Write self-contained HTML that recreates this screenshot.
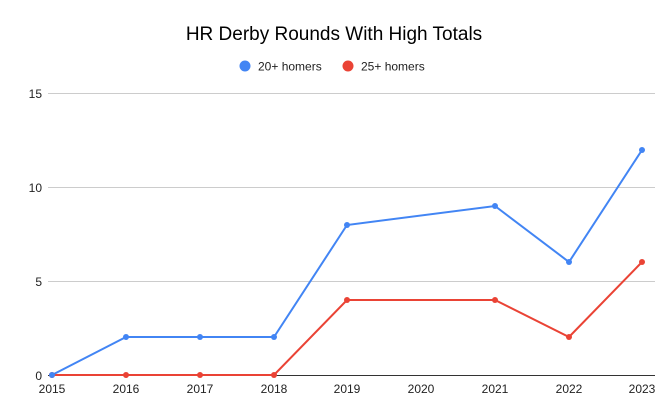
<!DOCTYPE html><html><head><style>body{margin:0;background:#fff}svg{display:block}</style></head><body>
<svg width="668" height="416" xmlns="http://www.w3.org/2000/svg" font-family="Liberation Sans, sans-serif">
<rect width="668" height="416" fill="#fff"/>
<text x="334" y="40" text-anchor="middle" font-size="19" fill="#000">HR Derby Rounds With High Totals</text>
<circle cx="245" cy="66" r="5.5" fill="#4285f4"/><text x="258" y="70.5" font-size="12" fill="#222">20+ homers</text>
<circle cx="348" cy="66" r="5.5" fill="#ea4335"/><text x="361" y="70.5" font-size="12" fill="#222">25+ homers</text>
<g stroke="#ccc" stroke-width="1">
<line x1="48" y1="93.5" x2="655" y2="93.5"/><line x1="48" y1="187.5" x2="655" y2="187.5"/><line x1="48" y1="281.5" x2="655" y2="281.5"/></g>
<line x1="48" y1="375.5" x2="655" y2="375.5" stroke="#333"/>
<g font-size="12" fill="#222" text-anchor="end"><text x="42" y="98">15</text><text x="42" y="192">10</text><text x="42" y="286">5</text><text x="42" y="380">0</text></g>
<g font-size="12" fill="#222" text-anchor="middle"><text x="52" y="393">2015</text><text x="126" y="393">2016</text><text x="200" y="393">2017</text><text x="274" y="393">2018</text><text x="347" y="393">2019</text><text x="421" y="393">2020</text><text x="495" y="393">2021</text><text x="569" y="393">2022</text><text x="642" y="393">2023</text></g>
<polyline fill="none" stroke="#ea4335" stroke-width="2" points="52,375 126,375 200,375 274,375 347,300 495,300 569,337 642,262"/>
<polyline fill="none" stroke="#4285f4" stroke-width="2" points="52,375 126,337 200,337 274,337 347,225 495,206 569,262 642,150"/>
<g fill="#ea4335"><circle cx="52" cy="375" r="3"/><circle cx="126" cy="375" r="3"/><circle cx="200" cy="375" r="3"/><circle cx="274" cy="375" r="3"/><circle cx="347" cy="300" r="3"/><circle cx="495" cy="300" r="3"/><circle cx="569" cy="337" r="3"/><circle cx="642" cy="262" r="3"/></g>
<g fill="#4285f4"><circle cx="52" cy="375" r="3"/><circle cx="126" cy="337" r="3"/><circle cx="200" cy="337" r="3"/><circle cx="274" cy="337" r="3"/><circle cx="347" cy="225" r="3"/><circle cx="495" cy="206" r="3"/><circle cx="569" cy="262" r="3"/><circle cx="642" cy="150" r="3"/></g>
</svg></body></html>
